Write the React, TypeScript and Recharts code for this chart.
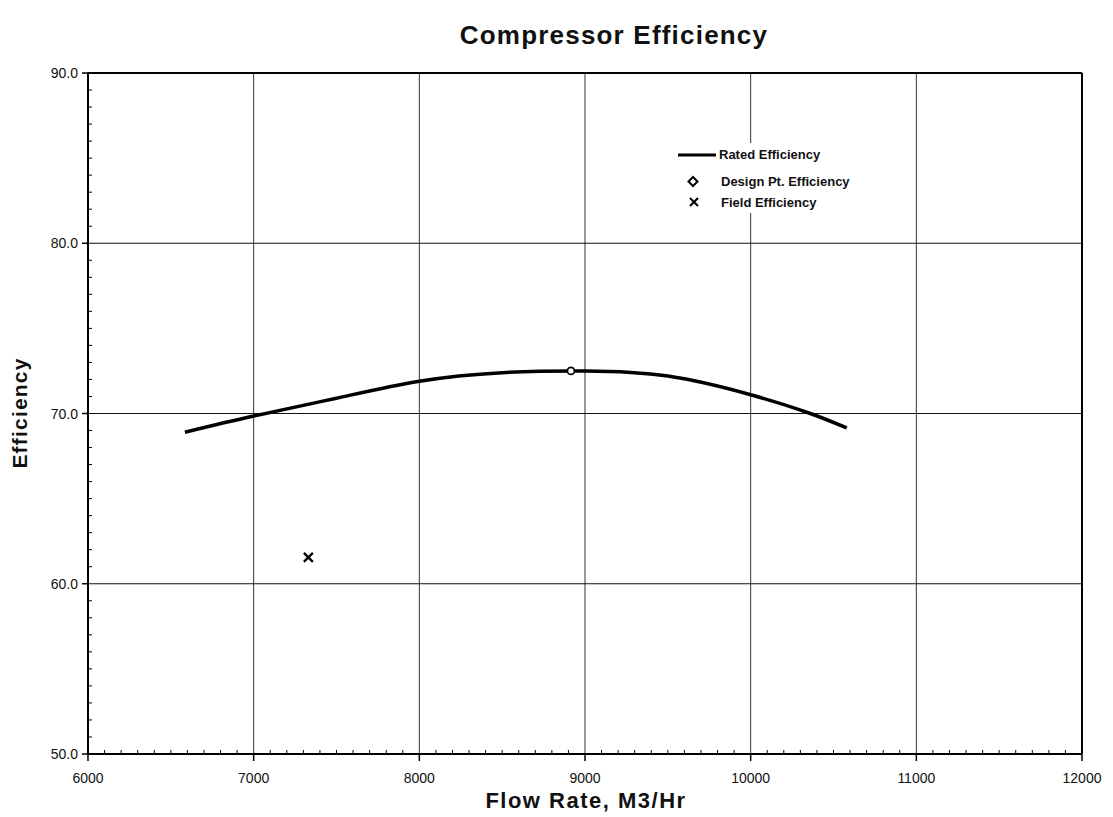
import { ComposedChart, Line, Scatter, XAxis, YAxis, ReferenceLine } from "recharts";

// rated curve
const FLOW = [6585, 7000, 7500, 8000, 8500, 9000, 9500, 10000, 10360, 10580];
const RATED = [68.9, 69.85, 70.9, 71.9, 72.4, 72.5, 72.2, 71.1, 70.0, 69.15];

const DESIGN_FLOW = [8915];
const DESIGN_EFF = [72.5];
const FIELD_FLOW = [7330];
const FIELD_EFF = [61.55];

const X_TICKS = [6000, 7000, 8000, 9000, 10000, 11000, 12000];
const Y_TICKS = [50, 60, 70, 80, 90];

const X_MINOR = Array.from({ length: 61 }, (_, i) => 6000 + i * 100);
const Y_MINOR = Array.from({ length: 41 }, (_, i) => 50 + i);

const rated = FLOW.map((f, i) => ({ flow: f, eff: RATED[i] }));
const design = DESIGN_FLOW.map((f, i) => ({ flow: f, eff: DESIGN_EFF[i] }));
const field = FIELD_FLOW.map((f, i) => ({ flow: f, eff: FIELD_EFF[i] }));

const FONT = "'Liberation Sans', Arial, sans-serif";

const XTick = (p: any) => {
  const { x, y, payload } = p;
  const v = payload.value;
  if (X_TICKS.includes(v)) {
    return (
      <g>
        <line x1={x} x2={x} y1={y} y2={y + 7} stroke="#000" strokeWidth={1.5} />
        <text x={x} y={y + 29} textAnchor="middle" fontSize={14} fontFamily={FONT} fill="#111">{v}</text>
      </g>
    );
  }
  return <line x1={x} x2={x} y1={y} y2={y - 4} stroke="#000" strokeWidth={1} />;
};

const YTick = (p: any) => {
  const { x, y, payload } = p;
  const v = payload.value;
  if (Y_TICKS.includes(v)) {
    return (
      <g>
        <line x1={x} x2={x - 6} y1={y} y2={y} stroke="#000" strokeWidth={1.5} />
        <text x={x - 10} y={y + 5} textAnchor="end" fontSize={14} fontFamily={FONT} fill="#111">{v.toFixed(1)}</text>
      </g>
    );
  }
  return <line x1={x} x2={x + 4} y1={y} y2={y} stroke="#000" strokeWidth={1} />;
};

const Dot = ({ cx, cy }: any) => (
  <circle cx={cx} cy={cy} r={3.5} fill="#fff" stroke="#000" strokeWidth={1.8} />
);

const Cross = ({ cx, cy }: any) => (
  <g stroke="#000" strokeWidth={2.2}>
    <line x1={cx - 4.5} x2={cx + 4.5} y1={cy - 4.5} y2={cy + 4.5} />
    <line x1={cx - 4.5} x2={cx + 4.5} y1={cy + 4.5} y2={cy - 4.5} />
  </g>
);

const LegendBox = () => {
  const txt = { fontFamily: FONT, fontSize: 13, fontWeight: 700, fill: "#111" } as const;
  return (
    <svg width={195} height={70} style={{ position: "absolute", left: 673, top: 143 }}>
      <rect width={175} height={70} fill="#fff" />
      <line x1={5} x2={43} y1={12} y2={12} stroke="#000" strokeWidth={3} />
      <text x={46} y={16} {...txt}>Rated Efficiency</text>
      <path d="M20 34 L24.5 38.5 L20 43 L15.5 38.5 Z" fill="#fff" stroke="#000" strokeWidth={2} />
      <text x={48} y={43} {...txt}>Design Pt. Efficiency</text>
      <g stroke="#000" strokeWidth={2.2}>
        <line x1={17} x2={25} y1={55} y2={63} />
        <line x1={17} x2={25} y1={63} y2={55} />
      </g>
      <text x={48} y={64} {...txt}>Field Efficiency</text>
    </svg>
  );
};

export default function App() {
  return (
    <div style={{ position: "absolute", left: 0, top: 0, width: 1113, height: 817, background: "#fff", fontFamily: FONT }}>
      <div style={{ position: "absolute", left: 0, width: 1228, top: 20, textAlign: "center", fontSize: 26, fontWeight: 700, letterSpacing: 1.2, color: "#111" }}>
        Compressor Efficiency
      </div>
      <div style={{ position: "absolute", left: 586, top: 788, transform: "translateX(-50%)", whiteSpace: "nowrap", fontSize: 22, fontWeight: 700, letterSpacing: 1.5, color: "#111" }}>
        Flow Rate, M3/Hr
      </div>
      <div style={{ position: "absolute", left: 20, top: 413, transform: "translate(-50%, -50%) rotate(-90deg)", whiteSpace: "nowrap", fontSize: 21, fontWeight: 700, letterSpacing: 1.2, color: "#111" }}>
        Efficiency
      </div>
      <ComposedChart width={1113} height={817} margin={{ top: 73, right: 31, bottom: 23, left: 28 }}>
        <XAxis
          dataKey="flow"
          type="number"
          domain={[6000, 12000]}
          ticks={X_MINOR}
          interval={0}
          tick={XTick}
          tickLine={false}
          tickSize={0}
          tickMargin={0}
          height={40}
          axisLine={{ stroke: "#000", strokeWidth: 2 }}
          allowDataOverflow
        />
        <YAxis
          dataKey="eff"
          type="number"
          domain={[50, 90]}
          ticks={Y_MINOR}
          interval={0}
          tick={YTick}
          tickLine={false}
          tickSize={0}
          tickMargin={0}
          width={60}
          axisLine={{ stroke: "#000", strokeWidth: 2 }}
          allowDataOverflow
        />
        {X_TICKS.slice(1, -1).map((v) => (
          <ReferenceLine key={"x" + v} x={v} stroke="#333" strokeWidth={1} />
        ))}
        {Y_TICKS.slice(1, -1).map((v) => (
          <ReferenceLine key={"y" + v} y={v} stroke="#111" strokeWidth={1.2} />
        ))}
        <ReferenceLine x={12000} stroke="#000" strokeWidth={2} />
        <ReferenceLine y={90} stroke="#000" strokeWidth={2} />
        <Line
          data={rated}
          dataKey="eff"
          type="natural"
          stroke="#000"
          strokeWidth={3.5}
          dot={false}
          isAnimationActive={false}
          name="Rated Efficiency"
        />
        <Scatter data={design} dataKey="eff" shape={Dot} isAnimationActive={false} name="Design Pt. Efficiency" />
        <Scatter data={field} dataKey="eff" shape={Cross} isAnimationActive={false} name="Field Efficiency" />
      </ComposedChart>
      <LegendBox />
    </div>
  );
}
